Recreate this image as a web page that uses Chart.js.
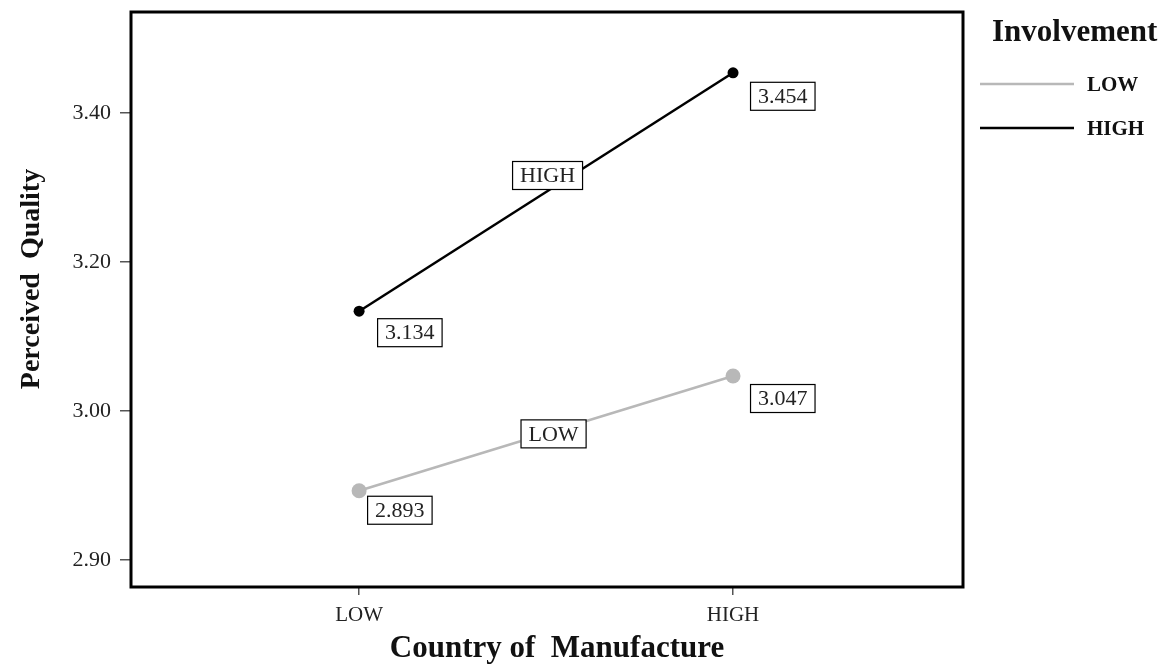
<!DOCTYPE html>
<html>
<head>
<meta charset="utf-8">
<script src="https://cdn.jsdelivr.net/npm/chart.js@4"></script>
<style>
  body { margin: 0; background: #fff; }
  canvas { display: block; }
</style>
</head>
<body>
<canvas id="chart" width="1167" height="669"></canvas>
<script>
// データ
const categories = ['LOW', 'HIGH'];          // Country of Manufacture
const seriesNames = ['LOW', 'HIGH'];         // Involvement
const lowValues = [2.893, 3.047];
const highValues = [3.134, 3.454];
const yTickValues = [2.8, 3.0, 3.2, 3.4];
const yTickLabels = ['2.90', '3.00', '3.20', '3.40']; // 元の図のラベルそのまま

const serif = '"Liberation Serif", "DejaVu Serif", serif';

// 値ラベル・系列ラベルのずれ (px)
const valueOffsets = [
  [[8, 5], [17, 8]],     // LOW
  [[18, 7], [17, 9]]     // HIGH
];
const nameOffsets = [[7, 0], [1, -17]];

function boxText(ctx, text, x, y, align) {
  ctx.font = '22px ' + serif;
  const w = ctx.measureText(text).width + 15;
  const h = 28;
  const left = align === 'center' ? x - w / 2 : x;
  const top = align === 'center' ? y - h / 2 : y;
  ctx.fillStyle = '#fff';
  ctx.fillRect(left, top, w, h);
  ctx.strokeStyle = '#000';
  ctx.lineWidth = 1.2;
  ctx.strokeRect(left + 0.5, top + 0.5, w, h);
  ctx.fillStyle = '#222';
  ctx.textAlign = 'center';
  ctx.textBaseline = 'middle';
  ctx.fillText(text, left + w / 2 + 0.5, top + h / 2 + 1.5);
}

// ラベル・枠・凡例・軸タイトルを描くプラグイン
const decorations = {
  id: 'decorations',
  afterDatasetsDraw(chart) {
    const ctx = chart.ctx;
    const area = chart.chartArea;
    ctx.save();
    chart.data.datasets.forEach((ds, i) => {
      const meta = chart.getDatasetMeta(i);
      const pts = meta.data;
      // 系列名ボックス
      const mx = (pts[0].x + pts[1].x) / 2 + nameOffsets[i][0];
      const my = (pts[0].y + pts[1].y) / 2 + nameOffsets[i][1];
      boxText(ctx, ds.label, mx, my, 'center');
      // 値ボックス
      pts.forEach((p, j) => {
        const v = ds.data[j].y.toFixed(3);
        boxText(ctx, v, p.x + valueOffsets[i][j][0], p.y + valueOffsets[i][j][1], 'left');
      });
    });

    // 枠線
    ctx.strokeStyle = '#000';
    ctx.lineWidth = 3;
    ctx.strokeRect(area.left, area.top, area.right - area.left, area.bottom - area.top);

    // 軸タイトル
    ctx.fillStyle = '#111';
    ctx.font = 'bold 31px ' + serif;
    ctx.textAlign = 'center';
    ctx.textBaseline = 'middle';
    ctx.fillText('Country of  Manufacture', (area.left + area.right) / 2 + 10, 649);
    ctx.save();
    ctx.font = 'bold 28px ' + serif;
    ctx.translate(32, 279);
    ctx.rotate(-Math.PI / 2);
    ctx.fillText('Perceived  Quality', 0, 0);
    ctx.restore();

    // 凡例
    ctx.textAlign = 'left';
    ctx.font = 'bold 31px ' + serif;
    ctx.fillText('Involvement', 992, 33);
    ctx.font = 'bold 21px ' + serif;
    chart.data.datasets.forEach((ds, i) => {
      const y = 84 + i * 44;
      ctx.strokeStyle = ds.borderColor;
      ctx.lineWidth = 2.5;
      ctx.beginPath();
      ctx.moveTo(980, y);
      ctx.lineTo(1074, y);
      ctx.stroke();
      ctx.fillStyle = '#111';
      ctx.fillText(ds.label, 1087, y + 2);
    });
    ctx.restore();
  }
};

const chart = new Chart(document.getElementById('chart'), {
  type: 'line',
  data: {
    datasets: [
      {
        label: seriesNames[0],
        data: lowValues.map((v, i) => ({ x: i, y: v })),
        borderColor: '#b8b8b8',
        backgroundColor: '#b8b8b8',
        borderWidth: 2.5,
        pointRadius: 7.5,
        pointBorderWidth: 0
      },
      {
        label: seriesNames[1],
        data: highValues.map((v, i) => ({ x: i, y: v })),
        borderColor: '#000',
        backgroundColor: '#000',
        borderWidth: 2.5,
        pointRadius: 5.5,
        pointBorderWidth: 0
      }
    ]
  },
  options: {
    responsive: false,
    animation: false,
    layout: { padding: { left: 0, right: 204, top: 12, bottom: 0 } },
    plugins: { legend: { display: false }, tooltip: { enabled: false } },
    scales: {
      x: {
        type: 'linear',
        min: -0.61,
        max: 1.615,
        afterBuildTicks: scale => { scale.ticks = categories.map((c, i) => ({ value: i })); },
        afterFit: scale => { scale.height = 82; scale.paddingLeft = 0; scale.paddingRight = 0; },
        ticks: {
          callback: v => categories[v],
          color: '#222',
          font: { family: serif, size: 21 },
          padding: 8
        },
        grid: { drawOnChartArea: false, drawTicks: true, tickLength: 8, color: '#555', lineWidth: 1.5 },
        border: { display: false }
      },
      y: {
        min: 2.7638,
        max: 3.5356,
        afterBuildTicks: scale => { scale.ticks = yTickValues.map(v => ({ value: v })); },
        afterFit: scale => { scale.width = 131; scale.paddingTop = 0; scale.paddingBottom = 0; },
        ticks: {
          callback: v => yTickLabels[yTickValues.findIndex(t => Math.abs(t - v) < 1e-6)],
          color: '#222',
          font: { family: serif, size: 22 },
          padding: 9
        },
        grid: { drawOnChartArea: false, drawTicks: true, tickLength: 11, color: '#555', lineWidth: 1.5 },
        border: { display: false }
      }
    }
  },
  plugins: [decorations]
});
</script>
</body>
</html>
